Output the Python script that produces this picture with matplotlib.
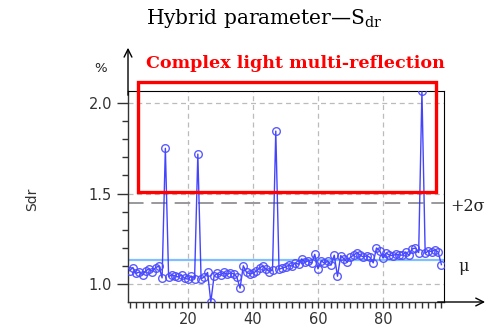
import matplotlib
matplotlib.use("Agg")
import matplotlib.pyplot as plt
from matplotlib.patches import Rectangle
from matplotlib.ticker import MultipleLocator

# Sdr values, sample index 2..98
sample = list(range(2, 99))
sdr = [1.075, 1.092, 1.060, 1.068, 1.052, 1.075, 1.085, 1.070, 1.092, 1.100,
       1.035, 1.750, 1.042, 1.052, 1.046, 1.040, 1.050, 1.032, 1.028, 1.045,
       1.030, 1.718, 1.030, 1.040, 1.065, 0.902, 1.045, 1.060, 1.050, 1.065,
       1.055, 1.062, 1.058, 1.040, 0.978, 1.102, 1.065, 1.058, 1.062, 1.072,
       1.090, 1.100, 1.085, 1.070, 1.078, 1.845, 1.082, 1.090, 1.095, 1.105,
       1.100, 1.118, 1.110, 1.140, 1.120, 1.130, 1.115, 1.165, 1.085, 1.130,
       1.115, 1.128, 1.105, 1.160, 1.044, 1.158, 1.140, 1.122, 1.150, 1.160,
       1.175, 1.160, 1.150, 1.158, 1.148, 1.118, 1.200, 1.185, 1.145, 1.172,
       1.160, 1.158, 1.165, 1.162, 1.160, 1.178, 1.160, 1.195, 1.200, 1.175,
       2.066, 1.170, 1.185, 1.180, 1.190, 1.178, 1.108]

mu = 1.136
plus_2sigma = 1.449
# highlighted region (x from, x to, y from, y to)
box = (4.6, 96.3, 1.508, 2.116)

title = "Hybrid parameter\u2014S$_\\mathregular{dr}$"
note = "Complex light multi-reflection"

fig = plt.figure(figsize=(4.91, 3.33), dpi=100)
ax = fig.add_axes([0.2607, 0.0931, 0.6436, 0.6336])

ax.plot(sample, sdr, color="#2f2fff", lw=1.0, marker="o", ms=5.5,
        mfc="none", mec="#4a4aff", mew=1.0, alpha=0.9, zorder=3)

ax.axhline(mu, color="#7fbfff", lw=1.6, zorder=2)
ax.axhline(plus_2sigma, color="#999999", lw=1.4, ls=(0, (8, 4)), zorder=2)

ax.set_xlim(1.5, 98.8)
ax.set_ylim(min(sdr), max(sdr))

ax.xaxis.set_major_locator(MultipleLocator(20))
ax.xaxis.set_minor_locator(MultipleLocator(2))
ax.yaxis.set_major_locator(MultipleLocator(0.5))
ax.yaxis.set_minor_locator(MultipleLocator(0.1))
ax.yaxis.set_major_formatter(matplotlib.ticker.FormatStrFormatter("%.1f"))
ax.tick_params(axis="both", which="major", length=8, width=1, colors="#333333",
               labelsize=10.5, labelcolor="#333333")
ax.tick_params(axis="both", which="minor", length=4, width=1, colors="#333333")
ax.tick_params(axis="x", which="major", length=4)

ax.grid(True, which="major", color="#bbbbbb", ls=(0, (4, 3)), lw=0.9)

for s in ["left", "bottom"]:
    ax.spines[s].set_color("#333333")
    ax.spines[s].set_linewidth(1.0)
for s in ["top", "right"]:
    ax.spines[s].set_color("black")
    ax.spines[s].set_linewidth(0.8)

# axis arrows
ax.annotate("", xy=(0, 1.205), xytext=(0, 0.98), xycoords="axes fraction",
            arrowprops=dict(arrowstyle="->", color="black", lw=1.0,
                            mutation_scale=14, shrinkA=0, shrinkB=0))
ax.annotate("", xy=(1.13, 0), xytext=(0.98, 0), xycoords="axes fraction",
            arrowprops=dict(arrowstyle="->", color="black", lw=1.0,
                            mutation_scale=14, shrinkA=0, shrinkB=0))

# red highlight box
rect = Rectangle((box[0], box[2]), box[1] - box[0], box[3] - box[2],
                 fill=False, ec="red", lw=2.4, clip_on=False, zorder=5)
ax.add_patch(rect)

serif = "DejaVu Serif"
fig.text(0.538, 0.945, title, ha="center", va="center", fontsize=14.5,
         family=serif, color="black")
fig.text(0.297, 0.81, note, ha="left", va="center", fontsize=12.6,
         family=serif, weight="bold", color="red")
fig.text(0.204, 0.795, "%", ha="center", va="center", fontsize=9.5,
         color="#222222")
fig.text(0.065, 0.40, "Sdr", ha="center", va="center", fontsize=10,
         rotation=90, color="#333333")

ax.text(1.02, plus_2sigma - 0.02, "+2\u03c3", transform=ax.get_yaxis_transform(),
        ha="left", va="center", fontsize=11.5, family=serif, color="#222222")
ax.text(1.045, mu - 0.04, "\u03bc", transform=ax.get_yaxis_transform(),
        ha="left", va="center", fontsize=11.5, family=serif, color="#222222")

fig.savefig("out.png", dpi=100)
